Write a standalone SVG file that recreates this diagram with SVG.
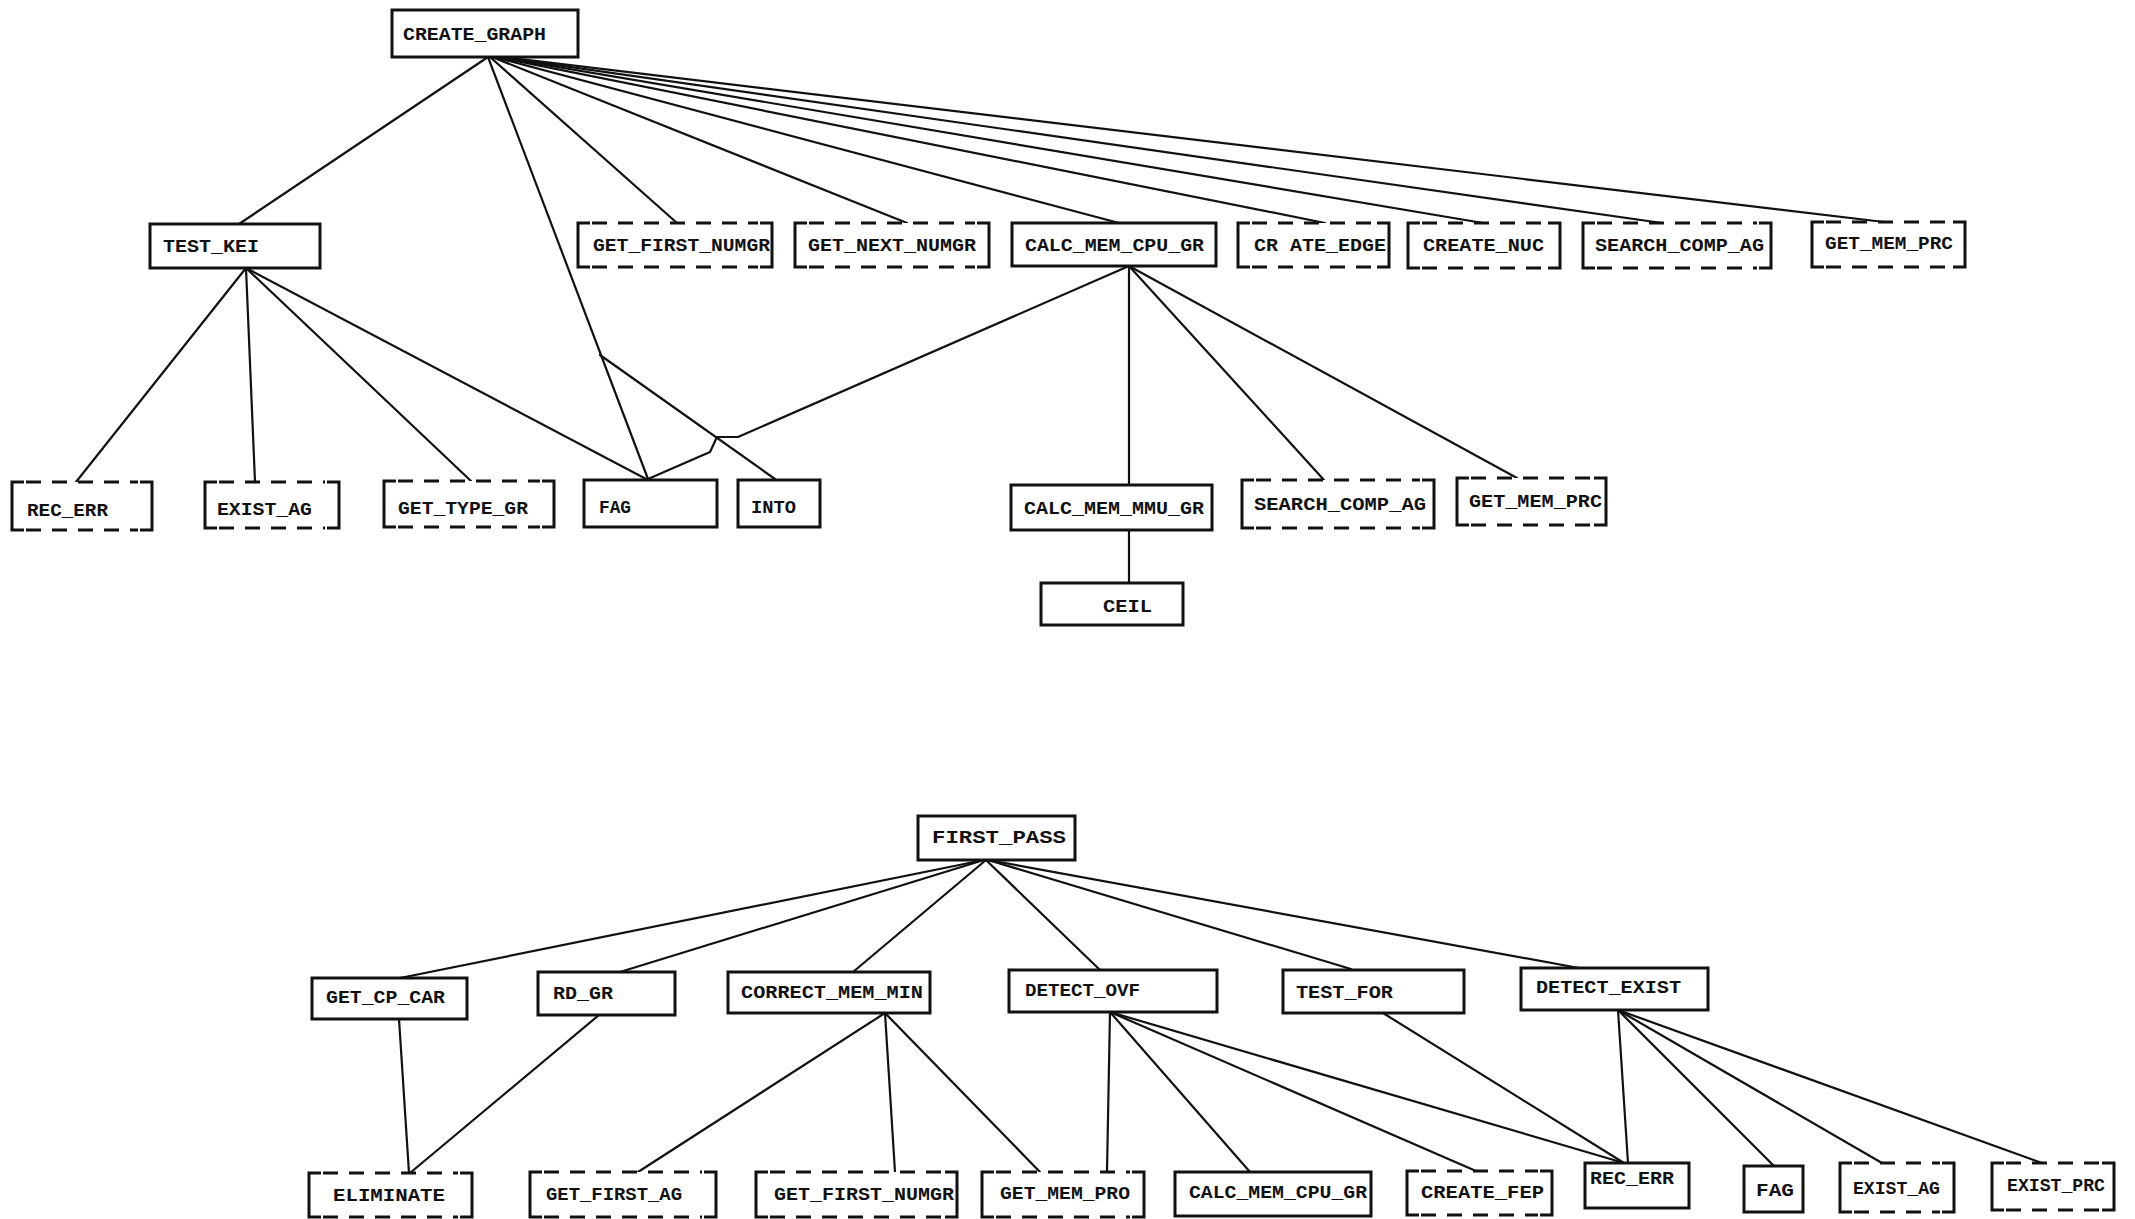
<svg xmlns="http://www.w3.org/2000/svg" width="2135" height="1219" viewBox="0 0 2135 1219">
<style>
.bgr{fill:#ffffff}
.e{fill:none;stroke:#111;stroke-width:2.2;stroke-linecap:round;stroke-linejoin:round}
.s{fill:#fff;stroke:#111;stroke-width:3}
.sb{fill:#fff;stroke:none}
.br{fill:none;stroke:#111;stroke-width:3}
.dl{fill:none;stroke:#111;stroke-width:3;stroke-dasharray:15 11}
text{font-family:"Liberation Mono","DejaVu Sans Mono",monospace;font-weight:bold;font-size:19px;fill:#111}
</style>
<rect class="bgr" x="0" y="0" width="2135" height="1219"/>
<g id="connectors">
<line class="e" x1="488" y1="57" x2="239" y2="224"/>
<line class="e" x1="488" y1="57" x2="648" y2="479"/>
<line class="e" x1="490" y1="57" x2="677" y2="223"/>
<line class="e" x1="492" y1="57" x2="907" y2="223"/>
<line class="e" x1="494" y1="57" x2="1119" y2="223"/>
<line class="e" x1="496" y1="57" x2="1325" y2="223"/>
<line class="e" x1="498" y1="57" x2="1483" y2="223"/>
<line class="e" x1="500" y1="57" x2="1662" y2="223"/>
<line class="e" x1="502" y1="57" x2="1884" y2="222"/>
<line class="e" x1="246" y1="268" x2="76" y2="482"/>
<line class="e" x1="246" y1="268" x2="255" y2="482"/>
<line class="e" x1="246" y1="268" x2="471" y2="481"/>
<line class="e" x1="246" y1="268" x2="648" y2="480"/>
<polyline class="e" points="600,355 775,479"/>
<polyline class="e" points="1129,266 738,437 717,437 710,452 648,479"/>
<line class="e" x1="1129" y1="266" x2="1129" y2="485"/>
<line class="e" x1="1129" y1="266" x2="1324" y2="480"/>
<line class="e" x1="1129" y1="266" x2="1517" y2="478"/>
<line class="e" x1="1129" y1="530" x2="1129" y2="583"/>
<line class="e" x1="984" y1="860" x2="400" y2="978"/>
<line class="e" x1="984" y1="860" x2="620" y2="972"/>
<line class="e" x1="986" y1="860" x2="853" y2="972"/>
<line class="e" x1="986" y1="860" x2="1100" y2="970"/>
<line class="e" x1="988" y1="860" x2="1351" y2="969"/>
<line class="e" x1="988" y1="860" x2="1579" y2="968"/>
<line class="e" x1="399" y1="1019" x2="409" y2="1173"/>
<line class="e" x1="599" y1="1015" x2="410" y2="1173"/>
<line class="e" x1="885" y1="1013" x2="638" y2="1172"/>
<line class="e" x1="885" y1="1013" x2="895" y2="1172"/>
<line class="e" x1="885" y1="1013" x2="1040" y2="1172"/>
<line class="e" x1="1110" y1="1012" x2="1107" y2="1172"/>
<line class="e" x1="1110" y1="1012" x2="1250" y2="1172"/>
<line class="e" x1="1110" y1="1012" x2="1476" y2="1171"/>
<line class="e" x1="1110" y1="1012" x2="1624" y2="1163"/>
<line class="e" x1="1383" y1="1013" x2="1624" y2="1163"/>
<line class="e" x1="1618" y1="1010" x2="1628" y2="1163"/>
<line class="e" x1="1618" y1="1010" x2="1774" y2="1166"/>
<line class="e" x1="1618" y1="1010" x2="1882" y2="1163"/>
<line class="e" x1="1618" y1="1010" x2="2042" y2="1163"/>
</g>
<g id="n-create-graph"><rect class="s" x="392" y="10" width="186" height="47"/><text x="403" y="40" textLength="143" lengthAdjust="spacingAndGlyphs">CREATE_GRAPH</text></g>
<g id="n-test-kei"><rect class="s" x="150" y="224" width="170" height="44"/><text x="163" y="252" textLength="96" lengthAdjust="spacingAndGlyphs">TEST_KEI</text></g>
<g id="n-get-first-numgr-1"><rect class="sb" x="578" y="223" width="194" height="44"/><path class="br" d="M590 223H578V267H590M760 223H772V267H760"/><path class="dl" d="M592 223H758M592 267H758"/><text x="593" y="251" textLength="177" lengthAdjust="spacingAndGlyphs">GET_FIRST_NUMGR</text></g>
<g id="n-get-next-numgr"><rect class="sb" x="795" y="223" width="194" height="44"/><path class="br" d="M807 223H795V267H807M977 223H989V267H977"/><path class="dl" d="M809 223H975M809 267H975"/><text x="808" y="251" textLength="168" lengthAdjust="spacingAndGlyphs">GET_NEXT_NUMGR</text></g>
<g id="n-calc-mem-cpu-gr-1"><rect class="s" x="1012" y="223" width="204" height="43"/><text x="1025" y="251" textLength="179" lengthAdjust="spacingAndGlyphs">CALC_MEM_CPU_GR</text></g>
<g id="n-create-edge"><rect class="sb" x="1238" y="223" width="151" height="44"/><path class="br" d="M1250 223H1238V267H1250M1377 223H1389V267H1377"/><path class="dl" d="M1252 223H1375M1252 267H1375"/><text x="1254" y="251" textLength="132" lengthAdjust="spacingAndGlyphs">CR ATE_EDGE</text></g>
<g id="n-create-nuc"><rect class="sb" x="1408" y="223" width="152" height="45"/><path class="br" d="M1420 223H1408V268H1420M1548 223H1560V268H1548"/><path class="dl" d="M1422 223H1546M1422 268H1546"/><text x="1423" y="251" textLength="121" lengthAdjust="spacingAndGlyphs">CREATE_NUC</text></g>
<g id="n-search-comp-ag-1"><rect class="sb" x="1583" y="223" width="188" height="45"/><path class="br" d="M1595 223H1583V268H1595M1759 223H1771V268H1759"/><path class="dl" d="M1597 223H1757M1597 268H1757"/><text x="1595" y="251" textLength="169" lengthAdjust="spacingAndGlyphs">SEARCH_COMP_AG</text></g>
<g id="n-get-mem-prc-1"><rect class="sb" x="1812" y="222" width="153" height="45"/><path class="br" d="M1824 222H1812V267H1824M1953 222H1965V267H1953"/><path class="dl" d="M1826 222H1951M1826 267H1951"/><text x="1825" y="249" textLength="128" lengthAdjust="spacingAndGlyphs">GET_MEM_PRC</text></g>
<g id="n-rec-err-1"><rect class="sb" x="12" y="482" width="140" height="48"/><path class="br" d="M24 482H12V530H24M140 482H152V530H140"/><path class="dl" d="M26 482H138M26 530H138"/><text x="27" y="516" textLength="81" lengthAdjust="spacingAndGlyphs">REC_ERR</text></g>
<g id="n-exist-ag-1"><rect class="sb" x="205" y="482" width="134" height="46"/><path class="br" d="M217 482H205V528H217M327 482H339V528H327"/><path class="dl" d="M219 482H325M219 528H325"/><text x="217" y="515" textLength="95" lengthAdjust="spacingAndGlyphs">EXIST_AG</text></g>
<g id="n-get-type-gr"><rect class="sb" x="384" y="481" width="170" height="46"/><path class="br" d="M396 481H384V527H396M542 481H554V527H542"/><path class="dl" d="M398 481H540M398 527H540"/><text x="398" y="514" textLength="130" lengthAdjust="spacingAndGlyphs">GET_TYPE_GR</text></g>
<g id="n-fag-1"><rect class="s" x="584" y="480" width="133" height="47"/><text x="599" y="513" textLength="32" lengthAdjust="spacingAndGlyphs">FAG</text></g>
<g id="n-into"><rect class="s" x="738" y="480" width="82" height="47"/><text x="751" y="513" textLength="45" lengthAdjust="spacingAndGlyphs">INTO</text></g>
<g id="n-calc-mem-mmu-gr"><rect class="s" x="1011" y="485" width="201" height="45"/><text x="1024" y="514" textLength="180" lengthAdjust="spacingAndGlyphs">CALC_MEM_MMU_GR</text></g>
<g id="n-search-comp-ag-2"><rect class="sb" x="1242" y="480" width="192" height="48"/><path class="br" d="M1254 480H1242V528H1254M1422 480H1434V528H1422"/><path class="dl" d="M1256 480H1420M1256 528H1420"/><text x="1254" y="510" textLength="172" lengthAdjust="spacingAndGlyphs">SEARCH_COMP_AG</text></g>
<g id="n-get-mem-prc-2"><rect class="sb" x="1457" y="478" width="149" height="47"/><path class="br" d="M1469 478H1457V525H1469M1594 478H1606V525H1594"/><path class="dl" d="M1471 478H1592M1471 525H1592"/><text x="1469" y="507" textLength="133" lengthAdjust="spacingAndGlyphs">GET_MEM_PRC</text></g>
<g id="n-ceil"><rect class="s" x="1041" y="583" width="142" height="42"/><text x="1103" y="612" textLength="49" lengthAdjust="spacingAndGlyphs">CEIL</text></g>
<g id="n-first-pass"><rect class="s" x="918" y="816" width="157" height="44"/><text x="932" y="843" textLength="134" lengthAdjust="spacingAndGlyphs">FIRST_PASS</text></g>
<g id="n-get-cp-car"><rect class="s" x="312" y="978" width="155" height="41"/><text x="326" y="1003" textLength="119" lengthAdjust="spacingAndGlyphs">GET_CP_CAR</text></g>
<g id="n-rd-gr"><rect class="s" x="538" y="972" width="137" height="43"/><text x="553" y="999" textLength="60" lengthAdjust="spacingAndGlyphs">RD_GR</text></g>
<g id="n-correct-mem-min"><rect class="s" x="728" y="972" width="202" height="41"/><text x="741" y="998" textLength="182" lengthAdjust="spacingAndGlyphs">CORRECT_MEM_MIN</text></g>
<g id="n-detect-ovf"><rect class="s" x="1009" y="970" width="208" height="42"/><text x="1025" y="996" textLength="115" lengthAdjust="spacingAndGlyphs">DETECT_OVF</text></g>
<g id="n-test-for"><rect class="s" x="1283" y="970" width="181" height="43"/><text x="1296" y="998" textLength="97" lengthAdjust="spacingAndGlyphs">TEST_FOR</text></g>
<g id="n-detect-exist"><rect class="s" x="1521" y="968" width="187" height="42"/><text x="1536" y="993" textLength="145" lengthAdjust="spacingAndGlyphs">DETECT_EXIST</text></g>
<g id="n-eliminate"><rect class="sb" x="309" y="1173" width="163" height="44"/><path class="br" d="M321 1173H309V1217H321M460 1173H472V1217H460"/><path class="dl" d="M323 1173H458M323 1217H458"/><text x="333" y="1201" textLength="112" lengthAdjust="spacingAndGlyphs">ELIMINATE</text></g>
<g id="n-get-first-ag"><rect class="sb" x="530" y="1172" width="186" height="45"/><path class="br" d="M542 1172H530V1217H542M704 1172H716V1217H704"/><path class="dl" d="M544 1172H702M544 1217H702"/><text x="546" y="1200" textLength="136" lengthAdjust="spacingAndGlyphs">GET_FIRST_AG</text></g>
<g id="n-get-first-numgr-2"><rect class="sb" x="756" y="1172" width="201" height="45"/><path class="br" d="M768 1172H756V1217H768M945 1172H957V1217H945"/><path class="dl" d="M770 1172H943M770 1217H943"/><text x="774" y="1200" textLength="180" lengthAdjust="spacingAndGlyphs">GET_FIRST_NUMGR</text></g>
<g id="n-get-mem-pro"><rect class="sb" x="982" y="1172" width="162" height="45"/><path class="br" d="M994 1172H982V1217H994M1132 1172H1144V1217H1132"/><path class="dl" d="M996 1172H1130M996 1217H1130"/><text x="1000" y="1199" textLength="130" lengthAdjust="spacingAndGlyphs">GET_MEM_PRO</text></g>
<g id="n-calc-mem-cpu-gr-2"><rect class="s" x="1175" y="1172" width="196" height="44"/><text x="1189" y="1198" textLength="178" lengthAdjust="spacingAndGlyphs">CALC_MEM_CPU_GR</text></g>
<g id="n-create-fep"><rect class="sb" x="1407" y="1171" width="145" height="44"/><path class="br" d="M1419 1171H1407V1215H1419M1540 1171H1552V1215H1540"/><path class="dl" d="M1421 1171H1538M1421 1215H1538"/><text x="1421" y="1198" textLength="123" lengthAdjust="spacingAndGlyphs">CREATE_FEP</text></g>
<g id="n-rec-err-2"><rect class="s" x="1585" y="1163" width="104" height="45"/><text x="1590" y="1184" textLength="84" lengthAdjust="spacingAndGlyphs">REC_ERR</text></g>
<g id="n-fag-2"><rect class="s" x="1744" y="1166" width="59" height="46"/><text x="1756" y="1196" textLength="38" lengthAdjust="spacingAndGlyphs">FAG</text></g>
<g id="n-exist-ag-2"><rect class="sb" x="1840" y="1163" width="114" height="49"/><path class="br" d="M1852 1163H1840V1212H1852M1942 1163H1954V1212H1942"/><path class="dl" d="M1854 1163H1940M1854 1212H1940"/><text x="1853" y="1194" textLength="87" lengthAdjust="spacingAndGlyphs">EXIST_AG</text></g>
<g id="n-exist-prc"><rect class="sb" x="1992" y="1163" width="122" height="47"/><path class="br" d="M2004 1163H1992V1210H2004M2102 1163H2114V1210H2102"/><path class="dl" d="M2006 1163H2100M2006 1210H2100"/><text x="2007" y="1191" textLength="98" lengthAdjust="spacingAndGlyphs">EXIST_PRC</text></g>
</svg>
